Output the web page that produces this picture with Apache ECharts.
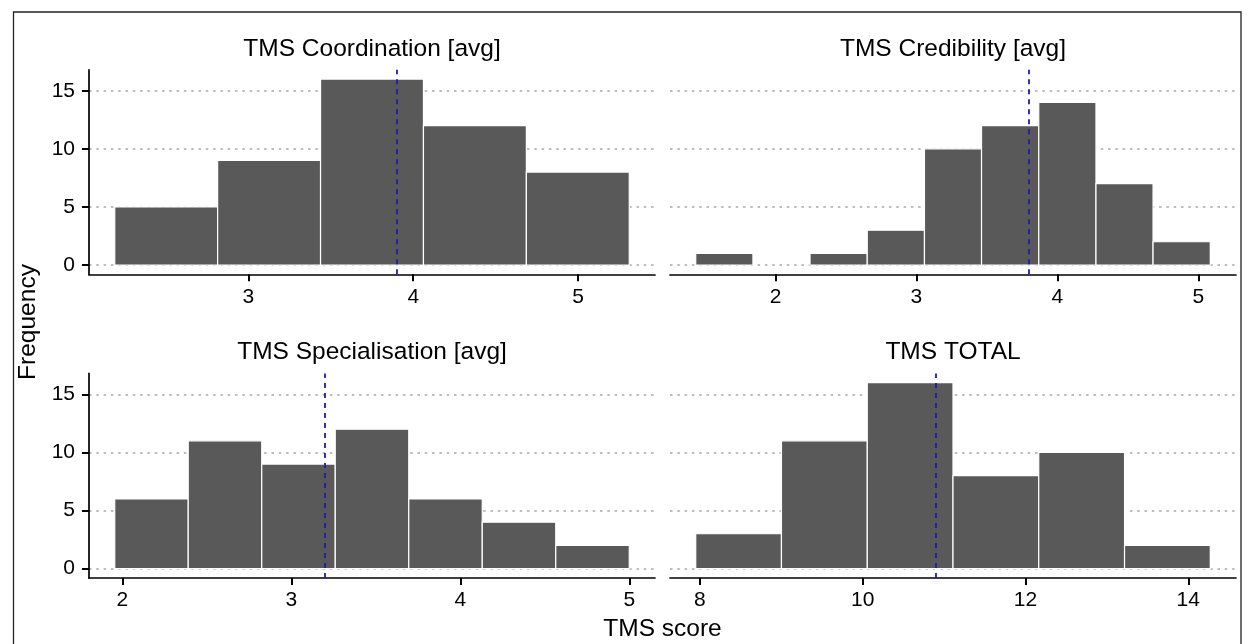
<!DOCTYPE html>
<html>
<head>
<meta charset="utf-8">
<script src="https://cdn.jsdelivr.net/npm/echarts@6.0.0/dist/echarts.min.js"></script>
<style>
html, body { margin: 0; padding: 0; background: #ffffff; }
#chart { width: 1248px; height: 644px; }
</style>
</head>
<body>
<div id="chart"></div>
<script>
// ---------------- data ----------------
const panelTitles = ['TMS Coordination [avg]', 'TMS Credibility [avg]', 'TMS Specialisation [avg]', 'TMS TOTAL'];

const coordEdges  = [2.19, 2.814, 3.438, 4.062, 4.686, 5.31];
const coordCounts = [5, 9, 16, 12, 8];

const credEdges   = [1.434, 1.840, 2.245, 2.651, 3.057, 3.462, 3.868, 4.274, 4.679, 5.085];
const credCounts  = [1, 0, 1, 3, 10, 12, 14, 7, 2];

const specEdges   = [1.955, 2.390, 2.825, 3.260, 3.695, 4.130, 4.565, 5.0];
const specCounts  = [6, 11, 9, 12, 6, 4, 2];

const totalEdges  = [7.95, 9.003, 10.057, 11.11, 12.163, 13.217, 14.27];
const totalCounts = [3, 11, 16, 8, 10, 2];

const meanValues  = [3.9, 3.8, 3.2, 10.9];

const coordTicks = [3, 4, 5];
const credTicks  = [2, 3, 4, 5];
const specTicks  = [2, 3, 4, 5];
const totalTicks = [8, 10, 12, 14];
const yTicks     = [0, 5, 10, 15];

const xAxisTitle = 'TMS score';
const yAxisTitle = 'Frequency';

// ---------------- build ----------------
const FONT = 'Liberation Sans, Arial, sans-serif';
const panels = [
  { edges: coordEdges, counts: coordCounts, ticks: coordTicks },
  { edges: credEdges,  counts: credCounts,  ticks: credTicks },
  { edges: specEdges,  counts: specCounts,  ticks: specTicks },
  { edges: totalEdges, counts: totalCounts, ticks: totalTicks }
];

const gridLeft = [89, 670, 89, 670];
const gridTop = [69.8, 69.8, 373.4, 373.4];
const GW = 566, GH = 204.5;
const yMin = -0.8, yMax = 16.8;

const grids = [], xAxes = [], yAxes = [], series = [];

panels.forEach(function (p, i) {
  const lo = p.edges[0], hi = p.edges[p.edges.length - 1];
  const pad = (hi - lo) * 0.05;
  grids.push({ left: gridLeft[i], top: gridTop[i], width: GW, height: GH, containLabel: false });
  xAxes.push({
    type: 'value', gridIndex: i, min: lo - pad, max: hi + pad,
    axisLine: { show: true, onZero: false, lineStyle: { color: '#000', width: 1.7 } },
    axisTick: { show: true, length: 7, lineStyle: { color: '#000', width: 2 }, customValues: p.ticks },
    axisLabel: { show: true, customValues: p.ticks, margin: 12, fontSize: 21, fontFamily: FONT, color: '#000' },
    splitLine: { show: false }
  });
  const left = (i % 2 === 0);
  yAxes.push({
    type: 'value', gridIndex: i, min: yMin, max: yMax,
    axisLine: { show: left, lineStyle: { color: '#000', width: 1.7 } },
    axisTick: { show: left, length: 7, lineStyle: { color: '#000', width: 2 }, customValues: yTicks },
    axisLabel: { show: left, customValues: yTicks, margin: 14, fontSize: 21, fontFamily: FONT, color: '#000' },
    splitLine: { show: true, lineStyle: { color: '#bdbdbd', width: 2, type: [2.5, 4.8] } }
  });
  const data = p.counts.map(function (c, k) { return [p.edges[k], p.edges[k + 1], c]; });
  series.push({
    type: 'custom', xAxisIndex: i, yAxisIndex: i,
    encode: { x: [0, 1], y: 2 },
    data: data,
    silent: true,
    renderItem: function (params, api) {
      const c = api.value(2);
      if (!c) return null;
      const p0 = api.coord([api.value(0), 0]);
      const p1 = api.coord([api.value(1), c]);
      return {
        type: 'rect',
        shape: { x: p0[0], y: p1[1], width: p1[0] - p0[0], height: p0[1] - p1[1] },
        style: { fill: '#595959', stroke: '#ffffff', lineWidth: 1.2 }
      };
    },
    markLine: {
      silent: true, symbol: ['none', 'none'], label: { show: false },
      lineStyle: { color: '#1c1cb0', width: 1.8, type: [5, 5] },
      data: [{ xAxis: meanValues[i] }]
    }
  });
});

const graphics = [
  { type: 'rect', shape: { x: 13.5, y: 12, width: 1227.5, height: 640 },
    style: { fill: 'none', stroke: '#222', lineWidth: 1.3 }, silent: true }
];
panels.forEach(function (p, i) {
  graphics.push({
    type: 'text', x: gridLeft[i] + GW / 2, y: gridTop[i] - 21,
    style: { text: panelTitles[i], fontSize: 24.5, fontFamily: FONT, fill: '#000', align: 'center', verticalAlign: 'middle' }
  });
});
graphics.push({
  type: 'text', x: 662.5, y: 629,
  style: { text: xAxisTitle, fontSize: 24.5, fontFamily: FONT, fill: '#000', align: 'center', verticalAlign: 'middle' }
});
graphics.push({
  type: 'text', x: 28, y: 322, rotation: Math.PI / 2,
  style: { text: yAxisTitle, fontSize: 24.5, fontFamily: FONT, fill: '#000', align: 'center', verticalAlign: 'middle' }
});

const chart = echarts.init(document.getElementById('chart'), null, { renderer: 'canvas' });
chart.setOption({
  backgroundColor: '#ffffff',
  animation: false,
  grid: grids,
  xAxis: xAxes,
  yAxis: yAxes,
  series: series,
  graphic: graphics
});
</script>
</body>
</html>
